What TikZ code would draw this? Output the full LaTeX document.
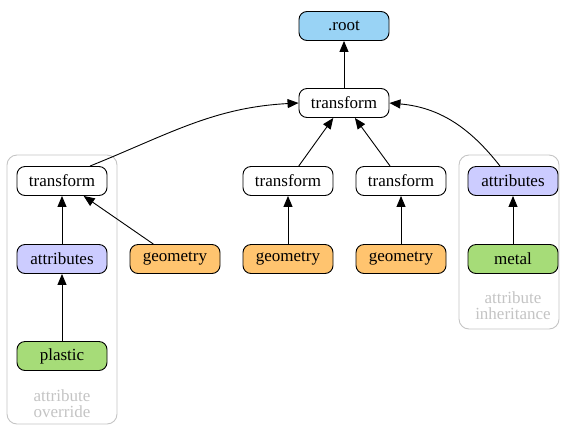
\documentclass[tikz,border=0pt]{standalone}
\usepackage{fontspec}
\setmainfont{Liberation Serif}
\usepackage{xcolor}
\usetikzlibrary{arrows.meta}
\tikzset{>={Triangle[width=9pt,length=11pt]}}

\definecolor{rootblue}{HTML}{99D3F5}
\definecolor{attrblue}{HTML}{CCCCFF}
\definecolor{geomorange}{HTML}{FFC46F}
\definecolor{matgreen}{HTML}{A6DC78}
\definecolor{clustergray}{HTML}{C4C4C4}

\tikzset{
  box/.style={draw=black, line width=0.9pt, rounded corners=8pt, minimum width=90pt,
    minimum height=29pt, inner sep=0pt, font=\fontsize{17}{16}\selectfont},
  cluster/.style={draw=clustergray, line width=0.9pt, rounded corners=10pt},
  clusterlabel/.style={text=clustergray, align=center, inner sep=0pt,
    font=\fontsize{17}{16}\selectfont},
  edge/.style={line width=0.9pt, ->}
}

\begin{document}
\begin{tikzpicture}[x=1pt, y=-1pt]

  \useasboundingbox (0,0) rectangle (561,426);

  % groups
  \draw[cluster] (7,155) rectangle (117,424);
  \draw[cluster] (459,155) rectangle (559,329);
  \node[clusterlabel] (overridelabel) at (62,404) {attribute\\override};
  \node[clusterlabel] (inheritlabel) at (513,306) {attribute\\inheritance};

  \node[box, fill=rootblue] (root) at (344,26) {.root};
  \node[box, fill=white] (top) at (344,103) {transform};

  \node[box, fill=white] (tfa) at (62,181) {transform};
  \node[box, fill=white] (tfb) at (288,181) {transform};
  \node[box, fill=white] (tfc) at (401,181) {transform};
  \node[box, fill=attrblue] (attrb) at (513,181) {attributes};

  \node[box, fill=attrblue] (attra) at (62,259) {attributes};
  \node[box, fill=geomorange] (geoa) at (175,259) {geometry};
  \node[box, fill=geomorange] (geob) at (288,259) {geometry};
  \node[box, fill=geomorange] (geoc) at (401,259) {geometry};
  \node[box, fill=matgreen] (metal) at (513,259) {metal};

  \node[box, fill=matgreen] (plastic) at (62,356) {plastic};

  \draw[edge] (top) -- (root);
  \draw[edge] ([xshift=28pt]tfa.north) to[out=22, in=183] (top.west);
  \draw[edge] (tfb) -- (top);
  \draw[edge] (tfc) -- (top);
  \draw[edge] ([xshift=-13pt]attrb.north) to[out=128, in=-5] (top.east);

  \draw[edge] (attra) -- (tfa);
  \draw[edge] (geoa) -- (tfa);
  \draw[edge] (geob) -- (tfb);
  \draw[edge] (geoc) -- (tfc);
  \draw[edge] (metal) -- (attrb);
  \draw[edge] (plastic) -- (attra);

\end{tikzpicture}
\end{document}
